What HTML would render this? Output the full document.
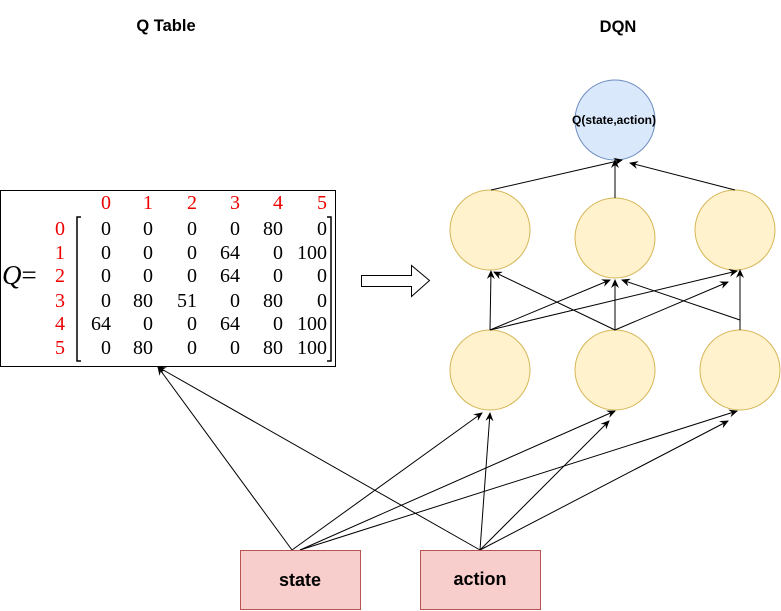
<!DOCTYPE html>
<html><head><style>
body{margin:0;width:781px;height:611px;background:#fff;position:relative;overflow:hidden}
svg{position:absolute;left:0;top:0}
</style></head><body>
<svg width="781" height="611" viewBox="0 0 781 611" xmlns="http://www.w3.org/2000/svg">
<defs><marker id="a" markerWidth="10" markerHeight="10" refX="8" refY="5" orient="auto" markerUnits="userSpaceOnUse"><path d="M0,1 L9,5 L0,9 L3,5 Z" fill="#000"/></marker></defs>
<g font-family="Liberation Sans, sans-serif" font-weight="bold" font-size="16.5" text-anchor="middle">
<text x="166" y="31">Q Table</text>
<text x="618" y="32">DQN</text>
</g>
<rect x="0.5" y="190.5" width="335" height="176" fill="#fff" stroke="#000"/>
<g font-family="Liberation Serif, serif" font-size="20" text-anchor="end">
<g fill="#e00">
<text x="111" y="209">0</text><text x="153" y="209">1</text><text x="197" y="209">2</text><text x="240" y="209">3</text><text x="283" y="209">4</text><text x="327" y="209">5</text>
<text x="65" y="235">0</text><text x="65" y="259">1</text><text x="65" y="282">2</text><text x="65" y="307">3</text><text x="65" y="330">4</text><text x="65" y="354">5</text>
</g>
<g fill="#000">
<text x="111" y="235">0</text><text x="153" y="235">0</text><text x="197" y="235">0</text><text x="240" y="235">0</text><text x="283" y="235">80</text><text x="327" y="235">0</text>
<text x="111" y="259">0</text><text x="153" y="259">0</text><text x="197" y="259">0</text><text x="240" y="259">64</text><text x="283" y="259">0</text><text x="327" y="259">100</text>
<text x="111" y="282">0</text><text x="153" y="282">0</text><text x="197" y="282">0</text><text x="240" y="282">64</text><text x="283" y="282">0</text><text x="327" y="282">0</text>
<text x="111" y="307">0</text><text x="153" y="307">80</text><text x="197" y="307">51</text><text x="240" y="307">0</text><text x="283" y="307">80</text><text x="327" y="307">0</text>
<text x="111" y="330">64</text><text x="153" y="330">0</text><text x="197" y="330">0</text><text x="240" y="330">64</text><text x="283" y="330">0</text><text x="327" y="330">100</text>
<text x="111" y="354">0</text><text x="153" y="354">80</text><text x="197" y="354">0</text><text x="240" y="354">0</text><text x="283" y="354">80</text><text x="327" y="354">100</text>
</g>
</g>
<text x="2" y="284" font-family="Liberation Serif, serif" font-size="27"><tspan font-style="italic">Q</tspan>=</text>
<path d="M81,217 L77,217 L77,361 L81,361" fill="none" stroke="#000" stroke-width="1.5"/>
<path d="M327,217 L331,217 L331,361 L327,361" fill="none" stroke="#000" stroke-width="1.5"/>
<path d="M361.5,275.5 H411.5 V265.5 L429.5,280.5 L411.5,296.5 V286.5 H361.5 Z" fill="#fff" stroke="#000"/>
<g stroke="#d6b656" fill="#fff2cc">
<circle cx="490" cy="230" r="40"/><circle cx="615" cy="238" r="40"/><circle cx="735" cy="230" r="40"/>
<circle cx="490" cy="370" r="40"/><circle cx="615" cy="370" r="40"/><circle cx="740" cy="370" r="40"/>
</g>
<circle cx="615" cy="120" r="40" fill="#dae8fc" stroke="#6c8ebf"/>
<text x="614" y="124" font-family="Liberation Sans, sans-serif" font-weight="bold" font-size="12" text-anchor="middle">Q(state,action)</text>
<g stroke="#000" fill="none" marker-end="url(#a)">
<line x1="491" y1="190" x2="622" y2="160"/>
<line x1="615" y1="198" x2="615" y2="160"/>
<line x1="735" y1="190" x2="630" y2="163"/>
<line x1="490" y1="330" x2="491" y2="271"/>
<line x1="490" y1="330" x2="610" y2="280"/>
<line x1="490" y1="330" x2="737" y2="271"/>
<line x1="615" y1="330" x2="494" y2="272"/>
<line x1="615" y1="330" x2="615" y2="280"/>
<line x1="615" y1="330" x2="728" y2="282"/>
<line x1="740" y1="330" x2="740" y2="270"/>
<line x1="740" y1="320" x2="622" y2="280"/>
<line x1="292" y1="550" x2="158" y2="367"/>
<line x1="292" y1="550" x2="482" y2="413"/>
<line x1="300" y1="550" x2="615" y2="411"/>
<line x1="300" y1="550" x2="737" y2="411"/>
<line x1="480" y1="550" x2="158" y2="367"/>
<line x1="480" y1="550" x2="490" y2="413"/>
<line x1="480" y1="550" x2="609" y2="421"/>
<line x1="480" y1="550" x2="728" y2="421"/>
</g>
<rect x="240.5" y="550.5" width="120" height="59" fill="#f8cecc" stroke="#b85450"/>
<rect x="420.5" y="550.5" width="120" height="59" fill="#f8cecc" stroke="#b85450"/>
<g font-family="Liberation Sans, sans-serif" font-weight="bold" font-size="18" text-anchor="middle">
<text x="300" y="586">state</text><text x="480" y="585">action</text>
</g>
</svg>
</body></html>
